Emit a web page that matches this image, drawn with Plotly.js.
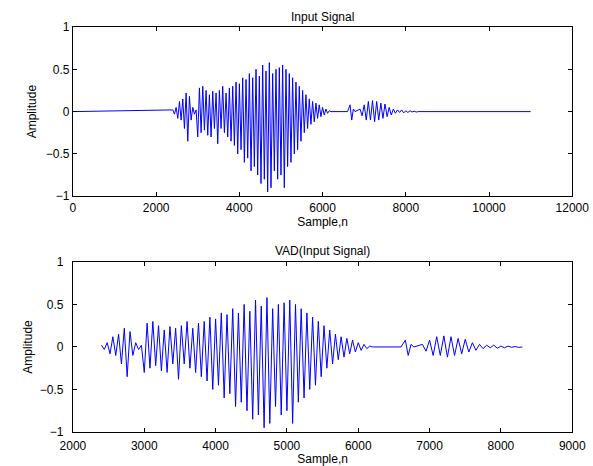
<!DOCTYPE html>
<html>
<head>
<meta charset="utf-8">
<script src="https://cdn.plot.ly/plotly-3.0.1.min.js"></script>
<style>body{margin:0;background:#fff}</style>
</head>
<body>
<div id="myDiv" style="width:593px;height:466px"></div>
<script>
// voiced part 1, peaks read every 40 samples from 2400
var segAStart = 2400, segAStep = 40;
var segAValues = [
	0.02,-0.03,0.05,-0.08,0.12,-0.1,0.15,-0.2,0.22,-0.35,
	0.18,-0.1,0.05,-0.03,0.02,
	-0.3,0.28,-0.25,0.3,-0.22,0.25,-0.28,0.2,-0.3,0.24,
	-0.2,0.22,-0.38,0.25,-0.2,0.3,-0.25,0.22,-0.3,0.28,
	-0.35,0.3,-0.4,0.35,-0.5,0.33,-0.45,0.4,-0.6,0.38,
	-0.55,0.45,-0.7,0.4,-0.65,0.5,-0.75,0.42,-0.85,0.55,
	-0.8,0.48,-0.95,0.58,-0.9,0.45,-0.7,0.5,-0.8,0.52,
	-0.75,0.55,-0.9,0.5,-0.65,0.45,-0.6,0.4,-0.5,0.35,
	-0.45,0.3,-0.35,0.25,-0.25,0.2,-0.2,0.15,-0.15,0.12,
	-0.12,0.1,-0.08,0.08,-0.06,0.05,-0.04,0.03,-0.02,0.01,0
];
// small click near 6650
var segBSamples = [6600, 6660, 6700, 6740, 6780];
var segBValues  = [0, 0.08, -0.1, 0.03, 0];
// voiced part 2, every 50 samples from 6900
var segCStart = 6900, segCStep = 50;
var segCValues = [
	0.03,-0.05,0.08,-0.1,0.12,-0.1,0.13,-0.12,0.12,-0.1,
	0.1,-0.08,0.09,-0.06,0.05,-0.04,0.03,-0.02,0.02,-0.01,
	0.02,-0.015,0.01,-0.01,0.01,-0.005,0.005,-0.005,0
];
var signalStart = 0, signalEnd = 11000;
var vadStart = 2400, vadEnd = 8300;

var xs = [signalStart], ys = [0];
segAValues.forEach(function(v, i){ xs.push(segAStart + i*segAStep); ys.push(v); });
segBSamples.forEach(function(s, i){ xs.push(s); ys.push(segBValues[i]); });
segCValues.forEach(function(v, i){ xs.push(segCStart + i*segCStep); ys.push(v); });
xs.push(signalEnd); ys.push(0);

var vx = [], vy = [];
xs.forEach(function(x, i){ if (x >= vadStart && x <= vadEnd) { vx.push(x); vy.push(ys[i]); } });

var line = {color: '#0000ff', width: 1};
var data = [
	{type: 'scatter', mode: 'lines', x: xs, y: ys, line: line, xaxis: 'x', yaxis: 'y'},
	{type: 'scatter', mode: 'lines', x: vx, y: vy, line: line, xaxis: 'x2', yaxis: 'y2'}
];

function ax(extra) {
	var a = {showgrid: false, zeroline: false, showline: true, mirror: 'ticks',
		linecolor: '#000', ticks: 'inside', ticklen: 4, tickcolor: '#000',
		tickfont: {size: 12, color: '#000'}};
	for (var k in extra) a[k] = extra[k];
	return a;
}
var ttl = {size: 12, color: '#000'};
var layout = {
	width: 593, height: 466,
	margin: {l: 0, r: 0, t: 0, b: 0},
	font: {family: 'Liberation Sans, Arial, sans-serif', size: 12, color: '#000'},
	paper_bgcolor: '#fff', plot_bgcolor: '#fff',
	showlegend: false,
	xaxis: ax({domain: [0.123, 0.965], range: [0, 12000], dtick: 2000, tickformat: 'd', anchor: 'y',
		title: {text: 'Sample,n', font: ttl, standoff: 2}}),
	yaxis: ax({domain: [0.579, 0.942], range: [-1, 1], dtick: 0.5, anchor: 'x',
		title: {text: 'Amplitude', font: ttl, standoff: 6}}),
	xaxis2: ax({domain: [0.123, 0.965], range: [2000, 9000], dtick: 1000, tickformat: 'd', anchor: 'y2',
		ticklabelstandoff: 3,
		title: {text: 'Sample,n', font: ttl, standoff: 2}}),
	yaxis2: ax({domain: [0.073, 0.438], range: [-1, 1], dtick: 0.5, anchor: 'x2',
		ticklabelstandoff: 6,
		title: {text: 'Amplitude', font: ttl, standoff: 4}}),
	annotations: [
		{text: 'Input Signal', showarrow: false, xref: 'paper', yref: 'paper',
			x: 0.544, y: 0.945, yanchor: 'bottom', font: ttl},
		{text: 'VAD(Input Signal)', showarrow: false, xref: 'paper', yref: 'paper',
			x: 0.544, y: 0.441, yanchor: 'bottom', font: ttl}
	]
};

Plotly.newPlot('myDiv', data, layout, {staticPlot: true, displaylogo: false});
</script>
</body>
</html>
